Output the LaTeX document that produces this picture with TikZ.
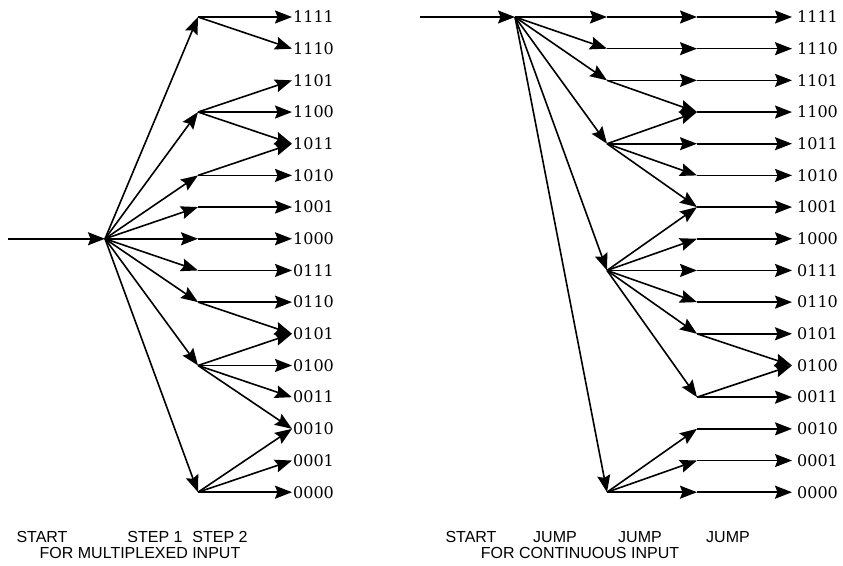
\documentclass[tikz,border=0pt]{standalone}
\usepackage{fontspec}
\setmainfont{DejaVu Serif}
\newfontfamily\capfont{Liberation Sans}
\usetikzlibrary{arrows.meta}
\usetikzlibrary{calc}

\begin{document}
\begin{tikzpicture}[x=1pt, y=-1pt,
    arr/.style={line width=1.6pt, -{Stealth[length=17pt, width=13pt, inset=2.5pt]}},
    outlab/.style={anchor=west, inner ysep=0pt, font=\fontsize{16}{18}\selectfont},
    caplab/.style={anchor=base, inner sep=0pt, font=\capfont\fontsize{16}{18}\selectfont}]

      \useasboundingbox (0,0) rectangle (843,565);

      \def\rowtop{17} % y of the first output row
      \def\dy{31.68} % spacing of the output rows

      % output codes, left (m) and right (c)
      \foreach \lab [count=\i from 0] in {1111,1110,1101,1100,1011,1010,1001,1000,0111,0110,0101,0100,0011,0010,0001,0000} {
        \node[outlab, inner xsep=1pt] (m\lab) at (292, \rowtop+\i*\dy) {\lab};
        \node[outlab, inner xsep=5pt] (c\lab) at (792, \rowtop+\i*\dy) {\lab};
      }

      % multiplexed input
      \coordinate (min) at (8, \rowtop+7*\dy);
      \coordinate (ms) at (105, \rowtop+7*\dy);
      \draw[arr] (min) -- (ms);

      \foreach \i in {0,3,5,6,7,8,9,11,15} {
        \coordinate (a\i) at (198, \rowtop+\i*\dy);
        \draw[arr] (ms) -- (a\i);
      }

      \foreach \from/\to in {0/1111, 0/1110, 3/1101, 3/1100, 3/1011, 5/1011, 5/1010,
          6/1001, 7/1000, 8/0111, 9/0110, 9/0101, 11/0101, 11/0100, 11/0011, 11/0010,
          15/0010, 15/0001, 15/0000}
        \draw[arr] (a\from) -- (m\to.west);

      % continuous input
      \coordinate (cin) at (420, \rowtop);
      \coordinate (cs) at (515, \rowtop);
      \draw[arr] (cin) -- (cs);

      \foreach \i in {0,1,2,4,8,15} {
        \coordinate (p\i) at (607, \rowtop+\i*\dy);
        \draw[arr] (cs) -- (p\i);
      }

      \foreach \i in {0,...,10,12,13,14,15}
        \coordinate (q\i) at (697, \rowtop+\i*\dy);

      \foreach \from/\to in {0/0, 1/1, 2/2, 2/3, 4/3, 4/4, 4/5, 4/6, 8/6, 8/7, 8/8,
          8/9, 8/10, 8/12, 15/13, 15/14, 15/15}
        \draw[arr] (p\from) -- (q\to);

      \foreach \from/\to in {0/1111, 1/1110, 2/1101, 3/1100, 4/1011, 5/1010, 6/1001,
          7/1000, 8/0111, 9/0110, 10/0101, 10/0100, 12/0100, 12/0011, 13/0010,
          14/0001, 15/0000}
        \draw[arr] (q\from) -- (c\to.west);

      % captions
      \node[caplab] (mstart) at (42,542) {START};
      \node[caplab] (mstep1) at (155,542) {STEP 1};
      \node[caplab] (mstep2) at (220,542) {STEP 2};
      \node[caplab] (mtitle) at (140,558) {FOR MULTIPLEXED INPUT};

      \node[caplab] (cstart) at (471,542) {START};
      \node[caplab] (cjump1) at (555,542) {JUMP};
      \node[caplab] (cjump2) at (640,542) {JUMP};
      \node[caplab] (cjump3) at (728,542) {JUMP};
      \node[caplab] (ctitle) at (580,558) {FOR CONTINUOUS INPUT};

    \end{tikzpicture}
\end{document}
